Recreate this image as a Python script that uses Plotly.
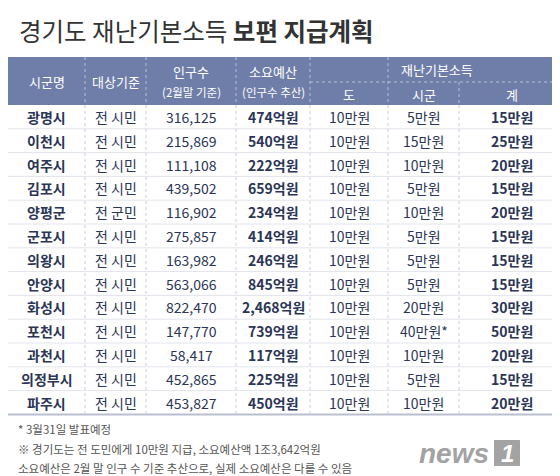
import plotly.graph_objects as go

cities = ["광명시","이천시","여주시","김포시","양평군","군포시","의왕시","안양시","화성시","포천시","과천시","의정부시","파주시"]
targets = ["전 시민"]*4 + ["전 군민"] + ["전 시민"]*8
population = ["316,125","215,869","111,108","439,502","116,902","275,857","163,982","563,066","822,470","147,770","58,417","452,865","453,827"]
budget = ["474억원","540억원","222억원","659억원","234억원","414억원","246억원","845억원","2,468억원","739억원","117억원","225억원","450억원"]
province = ["10만원"]*13
citypay = ["5만원","15만원","10만원","5만원","10만원","5만원","5만원","5만원","20만원","40만원*","10만원","5만원","10만원"]
total = ["15만원","25만원","20만원","15만원","20만원","15만원","15만원","15만원","30만원","50만원","20만원","15만원","20만원"]

FONT = "Noto Sans CJK KR"
NAVY = "#2b3556"
HDR = "#6e7ea8"
W, H = 560, 476
col_edges = [0, 77, 138, 228, 302, 380, 451, 556]
centers = [(a+b)/2 for a, b in zip(col_edges[:-1], col_edges[1:])]
hdr_top, hdr_mid, hdr_bot = 49, 74, 97
row_h = 23.8

fig = go.Figure()
shapes, ann = [], []
shapes.append(dict(type="rect", x0=0, x1=556, y0=hdr_top, y1=hdr_bot, fillcolor=HDR, line_width=0, layer="below"))
for x in col_edges[1:-1]:
    y0 = hdr_mid if x == 451 else hdr_top
    shapes.append(dict(type="line", x0=x, x1=x, y0=y0, y1=hdr_bot, line=dict(color="#b5bfd6", width=1, dash="dot")))
shapes.append(dict(type="line", x0=302, x1=556, y0=hdr_mid, y1=hdr_mid, line=dict(color="#b5bfd6", width=1, dash="dot")))
for i in range(len(cities)):
    y1 = hdr_bot + row_h*(i+1)
    last = i == len(cities)-1
    shapes.append(dict(type="line", x0=0, x1=556, y0=y1, y1=y1,
                       line=dict(color="#b9bfcf" if last else "#e2e4ea", width=2 if last else 1)))
for x in col_edges[1:-1]:
    shapes.append(dict(type="line", x0=x, x1=x, y0=hdr_bot, y1=hdr_bot+row_h*len(cities), line=dict(color="#c8ccd6", width=1, dash="dot")))

def t(x, y, s, size=12, color=NAVY, bold=False, anchor="center", family=FONT):
    ann.append(dict(x=x, y=y, text=f"<b>{s}</b>" if bold else s, showarrow=False, xanchor=anchor, yanchor="middle",
                    font=dict(family=family, size=size, color=color)))

t(9, 22, "경기도 재난기본소득 <b>보편 지급계획</b>", size=24.5, color="#333333", anchor="left")
t(centers[0], 73, "시군명", 13, "white")
t(centers[1], 73, "대상기준", 13, "white")
t(centers[2], 63, "인구수", 13, "white")
t(centers[2], 84, "(2월말 기준)", 11.5, "white")
t(centers[3], 63, "소요예산", 13, "white")
t(centers[3], 84, "(인구수 추산)", 11.5, "white")
t((302+556)/2, 61, "재난기본소득", 13, "white")
t(centers[4], 86, "도", 13, "white")
t(centers[5], 86, "시군", 13, "white")
t(centers[6], 86, "계", 13, "white")
cols = [(cities, True), (targets, False), (population, False), (budget, True), (province, False), (citypay, False), (total, True)]
for i in range(len(cities)):
    yc = hdr_bot + row_h*(i+0.5)
    for j, (arr, b) in enumerate(cols):
        t(centers[j], yc, arr[i], 14, NAVY, b)

GRAY = "#555555"
t(8, 421, "* 3월31일 발표예정", 11.5, GRAY, anchor="left")
t(8, 441, "※ 경기도는 전 도민에게 10만원 지급, 소요예산액 1조3,642억원", 11.5, GRAY, anchor="left")
t(8, 460, "소요예산은 2월 말 인구 수 기준 추산으로, 실제 소요예산은 다를 수 있음", 11.5, GRAY, anchor="left")
t(446, 445, "<b><i>news</i></b>", 28, "#a3a3a3", family="Liberation Sans")
shapes.append(dict(type="rect", x0=486, x1=512, y0=432, y1=458, fillcolor="#a3a3a3", line_width=0))
t(499, 445, "<b><i>1</i></b>", 24, "white", family="Liberation Sans")

fig.update_layout(width=W, height=H, margin=dict(l=0, r=0, t=0, b=0), paper_bgcolor="white", plot_bgcolor="white",
                  shapes=shapes, annotations=ann,
                  xaxis=dict(range=[0, W], visible=False, fixedrange=True),
                  yaxis=dict(range=[H, 0], visible=False, fixedrange=True))
fig.write_html("out.html")
